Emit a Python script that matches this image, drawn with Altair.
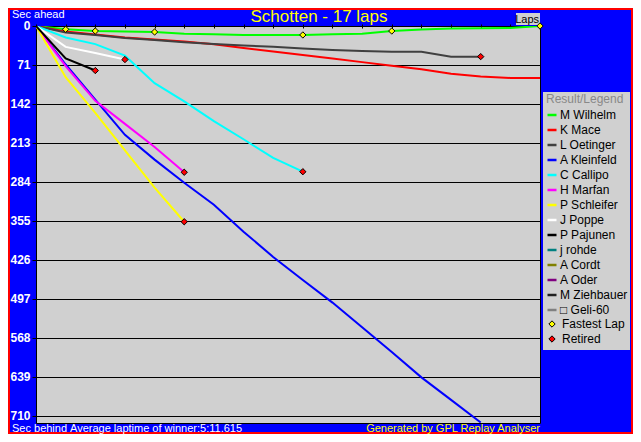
import altair as alt
import pandas as pd

FONT = "Liberation Sans"
TITLE = "Schotten - 17 laps"

drivers = ["M Wilhelm", "K Mace", "L Oetinger", "A Kleinfeld", "C Callipo", "H Marfan",
           "P Schleifer", "J Poppe", "P Pajunen", "j rohde", "A Cordt", "A Oder",
           "M Ziehbauer", "\u25a1 Geli-60"]
driver_colors = ["#00FF00", "#FF0000", "#404040", "#0000FF", "#00FFFF", "#FF00FF",
                 "#FFFF00", "#FFFFFF", "#000000", "#008080", "#808000", "#800080",
                 "#202020", "#808080"]

# seconds behind the winner's average pace, per lap (lap 0 = start)
wilhelm = [0, 6, 9.1, 10, 10.9, 14, 14.9, 16.3, 16.3, 16.3, 15.1, 14, 9.1, 6.4, 4.5, 4.2, 3.6, 0]
mace = [0, 10, 15.4, 20.9, 24.5, 28.1, 33.4, 40, 46.5, 52.7, 59, 65.7, 72.3, 78.8, 87, 92, 94.4, 94.4]
oetinger = [0, 11.8, 16.3, 21.8, 25.4, 29.6, 32.7, 35.4, 37.6, 40.9, 43.6, 45.4, 46.7, 47, 55.7, 55.7]
kleinfeld = [0, 70, 134, 198, 243, 285, 325, 374, 420, 462, 503, 548, 593, 639, 680, 721]
callipo = [0, 21, 33, 54, 104, 137, 173, 206, 240, 265]
marfan = [0, 73, 136, 178, 220, 266]
schleifer = [0, 93, 158, 226, 294, 356]
poppe = [0, 38, 49, 61]
pajunen = [0, 59, 81]

series = {
    "M Wilhelm": wilhelm, "K Mace": mace, "L Oetinger": oetinger,
    "A Kleinfeld": kleinfeld, "C Callipo": callipo, "H Marfan": marfan,
    "P Schleifer": schleifer, "J Poppe": poppe, "P Pajunen": pajunen,
}
retired = ["L Oetinger", "C Callipo", "H Marfan", "P Schleifer", "J Poppe", "P Pajunen"]
fastest_laps = [1, 2, 4, 9, 12, 17]
fastest_driver = "M Wilhelm"

y_ticks = [0, 71, 142, 213, 284, 355, 426, 497, 568, 639, 710]
lap_ticks = list(range(18))

rows = []
for d, vals in series.items():
    for lap, v in enumerate(vals):
        rows.append({"driver": d, "lap": lap, "sec": v})
df_lines = pd.DataFrame(rows)

pts = []
for lap in fastest_laps:
    pts.append({"kind": "Fastest Lap", "lap": lap, "sec": series[fastest_driver][lap]})
for d in retired:
    vals = series[d]
    pts.append({"kind": "Retired", "lap": len(vals) - 1, "sec": vals[-1]})
df_pts = pd.DataFrame(pts)

x_enc = alt.X("lap:Q", scale=alt.Scale(domain=[0, 17], nice=False, zero=False),
              axis=alt.Axis(orient="top", values=lap_ticks, labels=False, tickColor="black",
                            tickSize=4, tickWidth=1, domain=False, grid=False, title="",
                            offset=-2))
y_enc = alt.Y("sec:Q", scale=alt.Scale(domain=[0, 722], reverse=True, nice=False, zero=False),
              axis=alt.Axis(values=y_ticks, grid=True, gridColor="black", gridWidth=1,
                            gridOpacity=1, tickColor="black", tickSize=4, labelColor="white",
                            labelFont=FONT, labelFontSize=12, labelFontWeight="bold",
                            labelPadding=2, labelOffset=-1, domain=False, title=""))

one = pd.DataFrame({"t": [""]})

frame = alt.Chart(one).mark_rect(fillOpacity=0, stroke="#FF0000", strokeWidth=2).encode(
    x=alt.value(-27), x2=alt.value(596), y=alt.value(-17), y2=alt.value(407))
legend_bg = alt.Chart(one).mark_rect(fill="#D0D0D0").encode(
    x=alt.value(507), x2=alt.value(594), y=alt.value(66), y2=alt.value(324))
laps_bg = alt.Chart(one).mark_rect(fill="#D0D0D0").encode(
    x=alt.value(480), x2=alt.value(504), y=alt.value(-13), y2=alt.value(-1))

lines = alt.Chart(df_lines).mark_line(strokeWidth=2, clip=True).encode(
    x=x_enc, y=y_enc,
    stroke=alt.Stroke("driver:N", scale=alt.Scale(domain=drivers, range=driver_colors),
                      legend=alt.Legend(orient="none", legendX=510, legendY=68,
                                        title="Result/Legend", titleColor="#888888",
                                        titleFont=FONT, titleFontSize=12,
                                        titleFontWeight="normal", titlePadding=3,
                                        titleAnchor="start",
                                        labelFont=FONT, labelFontSize=12, labelColor="black",
                                        labelOffset=2, labelLimit=200,
                                        symbolType="stroke", symbolSize=81,
                                        symbolStrokeWidth=2.5, rowPadding=3, padding=0)),
    order="lap:Q")

points = alt.Chart(df_pts).mark_point(shape="diamond", filled=True, size=40, stroke="black",
                                      strokeWidth=1, opacity=1).encode(
    x=x_enc, y=y_enc,
    fill=alt.Fill("kind:N", scale=alt.Scale(domain=["Fastest Lap", "Retired"],
                                            range=["#FFFF00", "#FF0000"]),
                  title=None,
                  legend=alt.Legend(orient="none", legendX=510, legendY=292,
                                    labelFont=FONT, labelFontSize=12, labelColor="black",
                                    labelOffset=4, symbolType="diamond", symbolSize=40,
                                    symbolStrokeColor="black", symbolStrokeWidth=1,
                                    rowPadding=3, padding=0)))


def txt(s, x, y, size, color, align="left", weight="normal"):
    return alt.Chart(pd.DataFrame({"t": [s]})).mark_text(
        font=FONT, fontSize=size, color=color, align=align, baseline="alphabetic",
        fontWeight=weight).encode(text="t:N", x=alt.value(x), y=alt.value(y))


title = txt(TITLE, 283, -4, 17, "#FFFF00", "center")
sec_ahead = txt("Sec ahead", -24, -8, 11, "white")
laps_t = txt("Laps", 503, -3, 11, "black", "right")
sec_behind = txt("Sec behind", -24, 406, 11, "white")
avg = txt("Average laptime of winner:5:11.615", 34, 406, 11, "white")
gen = txt("Generated by GPL Replay Analyser", 504, 406, 11, "#FFFF00", "right")

chart = alt.layer(frame, legend_bg, laps_bg, lines, points, title, sec_ahead, laps_t,
                  sec_behind, avg, gen).properties(
    width=504, height=397, background="#0000FF",
    padding={"left": 28, "top": 18, "right": 93, "bottom": 11},
    autosize=alt.AutoSizeParams(type="none"),
).configure_view(fill="#D0D0D0", stroke="black", strokeWidth=1)

chart.save("out.html", embed_options={"renderer": "svg", "actions": False})
